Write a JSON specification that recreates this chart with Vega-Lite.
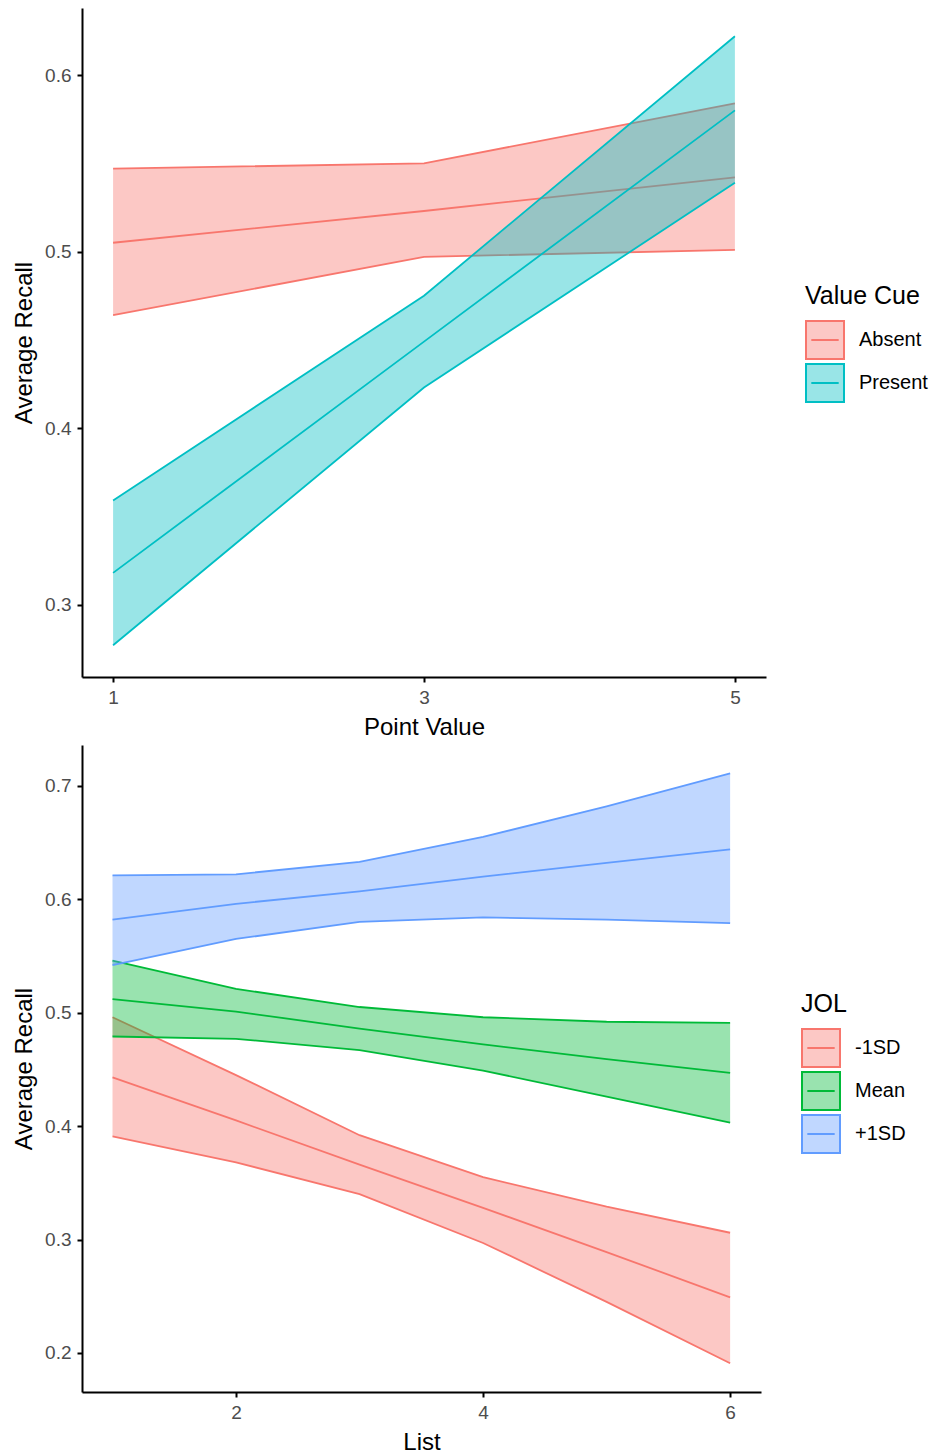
{
  "$schema": "https://vega.github.io/schema/vega-lite/v6.json",
  "background": "white",
  "padding": {"left": 12, "top": 8, "right": 5, "bottom": 5},
  "bounds": "flush",
  "spacing": 68,
  "resolve": {"scale": {"fill": "independent", "stroke": "independent", "x": "independent", "y": "independent"}, "legend": {"fill": "independent", "stroke": "independent"}},
  "config": {
    "view": {"stroke": null},
    "font": "Liberation Sans",
    "axis": {
      "grid": false,
      "domainColor": "black",
      "domainWidth": 2,
      "tickColor": "black",
      "tickWidth": 2,
      "tickSize": 5,
      "labelColor": "#4D4D4D",
      "labelFont": "Liberation Sans",
      "labelFontSize": 19,
      "labelPadding": 6,
      "titleFont": "Liberation Sans",
      "titleFontSize": 24,
      "titleFontWeight": "normal",
      "titleColor": "black",
      "titlePadding": 8
    },
    "legend": {
      "orient": "none",
      "titleFont": "Liberation Sans",
      "titleFontSize": 25,
      "titleFontWeight": "normal",
      "titleColor": "black",
      "titlePadding": 11,
      "labelFont": "Liberation Sans",
      "labelFontSize": 20,
      "labelColor": "black",
      "labelOffset": 14,
      "symbolType": "M-1,-1H1V1H-1Z M-0.72,0H0.72",
      "symbolSize": 1444,
      "symbolStrokeWidth": 2,
      "rowPadding": -8
    }
  },
  "vconcat": [
    {
      "width": 684,
      "height": 669,
      "data": {"values": [
        {"x": 1, "cue": "Absent", "lower": 0.464, "mean": 0.505, "upper": 0.547},
        {"x": 3, "cue": "Absent", "lower": 0.497, "mean": 0.523, "upper": 0.550},
        {"x": 5, "cue": "Absent", "lower": 0.501, "mean": 0.542, "upper": 0.584},
        {"x": 1, "cue": "Present", "lower": 0.277, "mean": 0.318, "upper": 0.359},
        {"x": 3, "cue": "Present", "lower": 0.423, "mean": 0.449, "upper": 0.475},
        {"x": 5, "cue": "Present", "lower": 0.539, "mean": 0.580, "upper": 0.622}
      ]},
      "encoding": {
        "x": {"field": "x", "type": "quantitative", "scale": {"domain": [0.8, 5.2], "nice": false, "zero": false}, "axis": {"values": [1, 3, 5], "title": "Point Value"}}
      },
      "layer": [
        {
          "transform": [{"filter": "datum.cue === 'Absent'"}],
          "layer": [
            {
              "mark": {"type": "area", "fillOpacity": 0.4},
              "encoding": {
                "y": {"field": "lower", "type": "quantitative", "scale": {"domain": [0.259, 0.638], "nice": false, "zero": false}, "axis": {"values": [0.3, 0.4, 0.5, 0.6], "format": ".1f"}, "title": "Average Recall"},
                "y2": {"field": "upper"},
                "fill": {"field": "cue", "type": "nominal", "scale": {"domain": ["Absent", "Present"], "range": ["#F8766D", "#00BFC4"]}, "title": "Value Cue", "legend": {"legendX": 723, "legendY": 276, "encode": {"symbols": {"update": {"fillOpacity": {"value": 0.4}, "strokeWidth": {"value": 2}}}}}}
              }
            },
            {
              "transform": [{"fold": ["lower", "mean", "upper"], "as": ["bound", "val"]}],
              "mark": {"type": "line", "strokeWidth": 1.8},
              "encoding": {
                "y": {"field": "val", "type": "quantitative", "title": "Average Recall"},
                "detail": {"field": "bound"},
                "stroke": {"field": "cue", "type": "nominal", "scale": {"domain": ["Absent", "Present"], "range": ["#F8766D", "#00BFC4"]}, "title": "Value Cue", "legend": {"legendX": 723, "legendY": 276, "encode": {"symbols": {"update": {"fillOpacity": {"value": 0.4}, "strokeWidth": {"value": 2}}}}}}
              }
            }
          ]
        },
        {
          "transform": [{"filter": "datum.cue === 'Present'"}],
          "layer": [
            {
              "mark": {"type": "area", "fillOpacity": 0.4},
              "encoding": {
                "y": {"field": "lower", "type": "quantitative", "title": "Average Recall"},
                "y2": {"field": "upper"},
                "fill": {"field": "cue", "type": "nominal", "title": "Value Cue"}
              }
            },
            {
              "transform": [{"fold": ["lower", "mean", "upper"], "as": ["bound", "val"]}],
              "mark": {"type": "line", "strokeWidth": 1.8},
              "encoding": {
                "y": {"field": "val", "type": "quantitative", "title": "Average Recall"},
                "detail": {"field": "bound"},
                "stroke": {"field": "cue", "type": "nominal", "title": "Value Cue"}
              }
            }
          ]
        }
      ]
    },
    {
      "width": 679,
      "height": 647,
      "data": {"values": [
        {"x": 1, "jol": "-1SD", "lower": 0.391, "mean": 0.443, "upper": 0.496},
        {"x": 2, "jol": "-1SD", "lower": 0.368, "mean": 0.405, "upper": 0.445},
        {"x": 3, "jol": "-1SD", "lower": 0.340, "mean": 0.366, "upper": 0.392},
        {"x": 4, "jol": "-1SD", "lower": 0.297, "mean": 0.328, "upper": 0.355},
        {"x": 5, "jol": "-1SD", "lower": 0.245, "mean": 0.289, "upper": 0.329},
        {"x": 6, "jol": "-1SD", "lower": 0.191, "mean": 0.249, "upper": 0.306},
        {"x": 1, "jol": "Mean", "lower": 0.479, "mean": 0.512, "upper": 0.546},
        {"x": 2, "jol": "Mean", "lower": 0.477, "mean": 0.501, "upper": 0.521},
        {"x": 3, "jol": "Mean", "lower": 0.467, "mean": 0.486, "upper": 0.505},
        {"x": 4, "jol": "Mean", "lower": 0.449, "mean": 0.472, "upper": 0.496},
        {"x": 5, "jol": "Mean", "lower": 0.426, "mean": 0.459, "upper": 0.492},
        {"x": 6, "jol": "Mean", "lower": 0.403, "mean": 0.447, "upper": 0.491},
        {"x": 1, "jol": "+1SD", "lower": 0.542, "mean": 0.582, "upper": 0.621},
        {"x": 2, "jol": "+1SD", "lower": 0.565, "mean": 0.596, "upper": 0.622},
        {"x": 3, "jol": "+1SD", "lower": 0.580, "mean": 0.607, "upper": 0.633},
        {"x": 4, "jol": "+1SD", "lower": 0.584, "mean": 0.620, "upper": 0.655},
        {"x": 5, "jol": "+1SD", "lower": 0.582, "mean": 0.632, "upper": 0.682},
        {"x": 6, "jol": "+1SD", "lower": 0.579, "mean": 0.644, "upper": 0.711}
      ]},
      "encoding": {
        "x": {"field": "x", "type": "quantitative", "scale": {"domain": [0.753, 6.25], "nice": false, "zero": false}, "axis": {"values": [2, 4, 6], "title": "List"}}
      },
      "layer": [
        {
          "transform": [{"filter": "datum.jol === '-1SD'"}],
          "layer": [
            {
              "mark": {"type": "area", "fillOpacity": 0.4},
              "encoding": {
                "y": {"field": "lower", "type": "quantitative", "scale": {"domain": [0.1656, 0.736], "nice": false, "zero": false}, "axis": {"values": [0.2, 0.3, 0.4, 0.5, 0.6, 0.7], "format": ".1f"}, "title": "Average Recall"},
                "y2": {"field": "upper"},
                "fill": {"field": "jol", "type": "nominal", "scale": {"domain": ["-1SD", "Mean", "+1SD"], "range": ["#F8766D", "#00BA38", "#619CFF"]}, "title": "JOL", "legend": {"legendX": 719, "legendY": 247, "encode": {"symbols": {"update": {"fillOpacity": {"value": 0.4}, "strokeWidth": {"value": 2}}}}}}
              }
            },
            {
              "transform": [{"fold": ["lower", "mean", "upper"], "as": ["bound", "val"]}],
              "mark": {"type": "line", "strokeWidth": 1.8},
              "encoding": {
                "y": {"field": "val", "type": "quantitative", "title": "Average Recall"},
                "detail": {"field": "bound"},
                "stroke": {"field": "jol", "type": "nominal", "scale": {"domain": ["-1SD", "Mean", "+1SD"], "range": ["#F8766D", "#00BA38", "#619CFF"]}, "title": "JOL", "legend": {"legendX": 719, "legendY": 247, "encode": {"symbols": {"update": {"fillOpacity": {"value": 0.4}, "strokeWidth": {"value": 2}}}}}}
              }
            }
          ]
        },
        {
          "transform": [{"filter": "datum.jol === 'Mean'"}],
          "layer": [
            {
              "mark": {"type": "area", "fillOpacity": 0.4},
              "encoding": {
                "y": {"field": "lower", "type": "quantitative", "title": "Average Recall"},
                "y2": {"field": "upper"},
                "fill": {"field": "jol", "type": "nominal", "title": "JOL"}
              }
            },
            {
              "transform": [{"fold": ["lower", "mean", "upper"], "as": ["bound", "val"]}],
              "mark": {"type": "line", "strokeWidth": 1.8},
              "encoding": {
                "y": {"field": "val", "type": "quantitative", "title": "Average Recall"},
                "detail": {"field": "bound"},
                "stroke": {"field": "jol", "type": "nominal", "title": "JOL"}
              }
            }
          ]
        },
        {
          "transform": [{"filter": "datum.jol === '+1SD'"}],
          "layer": [
            {
              "mark": {"type": "area", "fillOpacity": 0.4},
              "encoding": {
                "y": {"field": "lower", "type": "quantitative", "title": "Average Recall"},
                "y2": {"field": "upper"},
                "fill": {"field": "jol", "type": "nominal", "title": "JOL"}
              }
            },
            {
              "transform": [{"fold": ["lower", "mean", "upper"], "as": ["bound", "val"]}],
              "mark": {"type": "line", "strokeWidth": 1.8},
              "encoding": {
                "y": {"field": "val", "type": "quantitative", "title": "Average Recall"},
                "detail": {"field": "bound"},
                "stroke": {"field": "jol", "type": "nominal", "title": "JOL"}
              }
            }
          ]
        }
      ]
    }
  ]
}
